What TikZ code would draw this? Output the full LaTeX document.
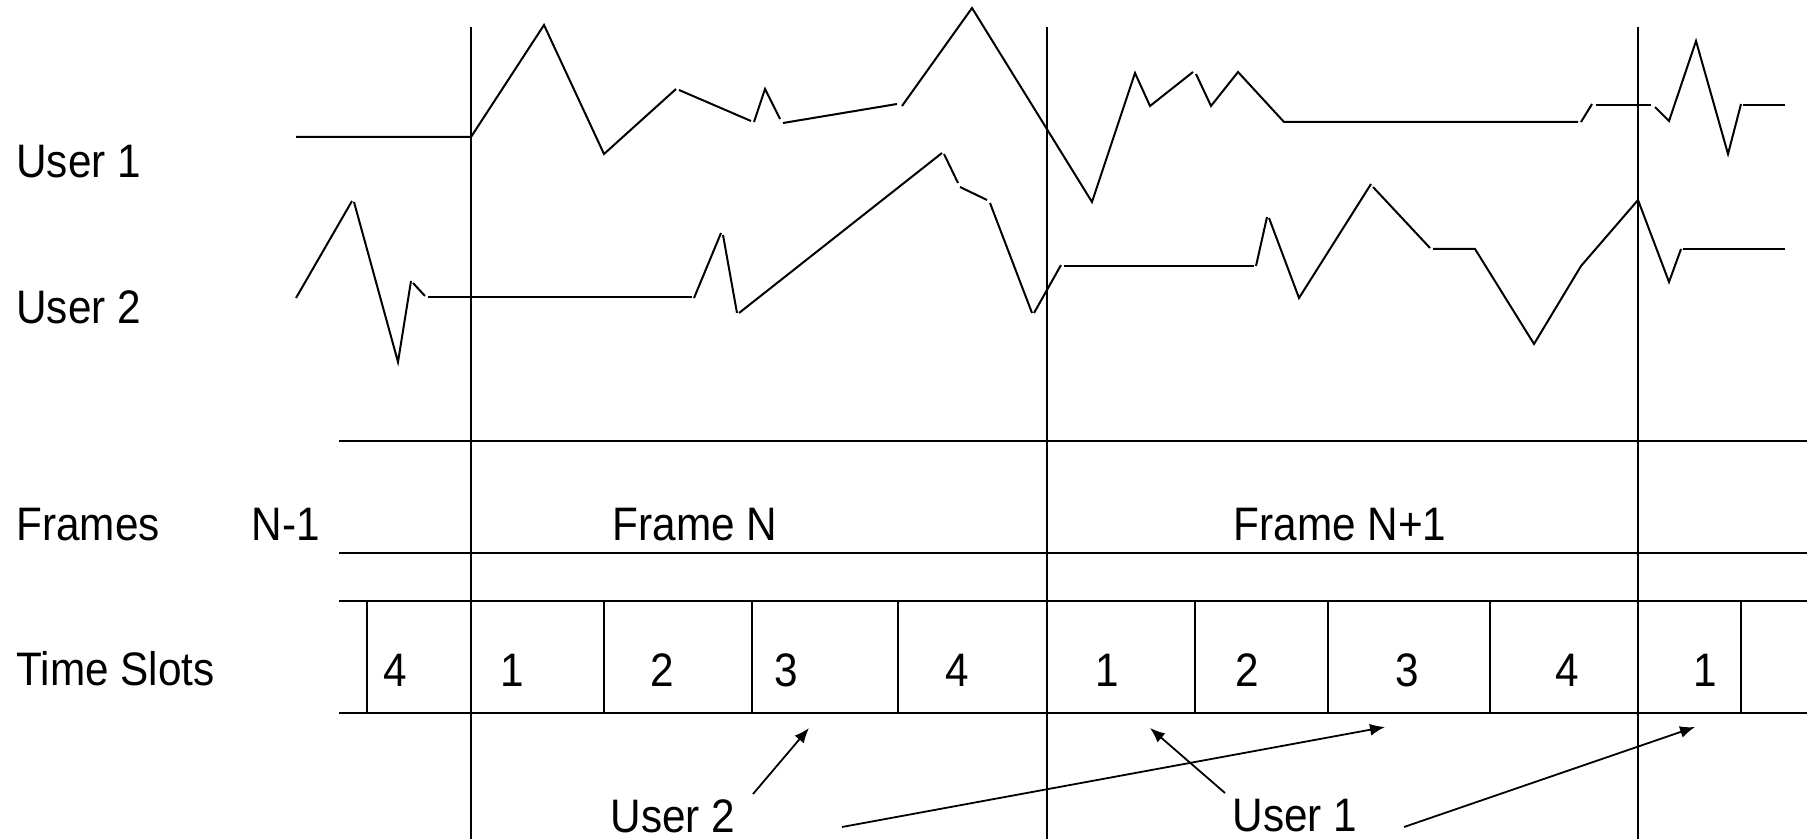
\documentclass[tikz,border=0pt]{standalone}
\usepackage{fontspec}
\setmainfont{Liberation Sans}[FakeStretch=0.9]
\usetikzlibrary{arrows.meta}

\begin{document}
\begin{tikzpicture}
      [ x = .5pt, y = -.5pt
      , lbl/.style =
        { inner sep = 0pt, anchor = base, font = \fontsize{23.5}{28}\selectfont }
      , side/.style =
        { anchor = base west }
      , wave/.style =
        { line width = 1pt }
      , rowline/.style =
        { line width = 1.4pt }
      , frameline/.style =
        { line width = 1.1pt }
      , slotline/.style =
        { line width = .9pt }
      , pointer/.style =
        { line width = .9pt, -{Latex[length=7.5pt, width=6pt]} }
      ]
      \useasboundingbox (0, 0) rectangle (1807, 839);
      % labels on the left
      \node [lbl,side] (u1) at (16, 178) {User 1};
      \node [lbl,side] (u2) at (16, 323) {User 2};
      \node [lbl,side] (fr) at (16, 540) {Frames};
      \node [lbl,side] (ts) at (16, 685) {Time Slots};
      \node [lbl] (nm1) at (286, 540) {N-1};
      \node [lbl] (fN) at (695, 540) {Frame N};
      \node [lbl] (fN1) at (1340, 540) {Frame N+1};
      % slot numbers
      \node [lbl] (s0) at (395, 686) {4};
      \node [lbl] (s1) at (512, 686) {1};
      \node [lbl] (s2) at (662, 686) {2};
      \node [lbl] (s3) at (786, 686) {3};
      \node [lbl] (s4) at (957, 686) {4};
      \node [lbl] (s5) at (1107, 686) {1};
      \node [lbl] (s6) at (1247, 686) {2};
      \node [lbl] (s7) at (1407, 686) {3};
      \node [lbl] (s8) at (1567, 686) {4};
      \node [lbl] (s9) at (1705, 686) {1};
      % who gets which slot
      \node [lbl] (w2) at (673, 832) {User 2};
      \node [lbl] (w1) at (1295, 831) {User 1};
      % rows
      \draw [rowline] (339, 441) -- (1807, 441);
      \draw [rowline] (339, 553) -- (1807, 553);
      \draw [rowline] (339, 601) -- (1807, 601);
      \draw [rowline] (339, 713) -- (1807, 713);
      % frame boundaries
      \draw [frameline] (471, 27) -- (471, 839);
      \draw [frameline] (1047, 27) -- (1047, 839);
      \draw [frameline] (1638, 27) -- (1638, 839);
      % slot boundaries
      \draw [slotline] (367, 601) -- (367, 713);
      \draw [slotline] (604, 601) -- (604, 713);
      \draw [slotline] (752, 601) -- (752, 713);
      \draw [slotline] (898, 601) -- (898, 713);
      \draw [slotline] (1195, 601) -- (1195, 713);
      \draw [slotline] (1328, 601) -- (1328, 713);
      \draw [slotline] (1490, 601) -- (1490, 713);
      \draw [slotline] (1741, 601) -- (1741, 713);
      % user 1 signal
      \draw [wave] (296, 137) -- (471, 137) -- (544, 25) -- (604, 154) -- (676, 89);
      \draw [wave] (679, 90) -- (751, 121);
      \draw [wave] (754, 122) -- (765, 89) -- (780, 119);
      \draw [wave] (783, 123) -- (897, 104);
      \draw [wave] (902, 106) -- (972, 8) -- (1092, 202) -- (1135, 73) -- (1150, 106) -- (1193, 72);
      \draw [wave] (1196, 74) -- (1211, 106) -- (1238, 72) -- (1284, 122) -- (1578, 122);
      \draw [wave] (1581, 122) -- (1592, 104);
      \draw [wave] (1596, 105) -- (1651, 105);
      \draw [wave] (1655, 107) -- (1669, 121) -- (1696, 41) -- (1728, 154) -- (1741, 104);
      \draw [wave] (1743, 105) -- (1785, 105);
      % user 2 signal
      \draw [wave] (296, 298) -- (352, 201);
      \draw [wave] (354, 202) -- (398, 362) -- (411, 281);
      \draw [wave] (413, 283) -- (425, 296);
      \draw [wave] (428, 297) -- (692, 297);
      \draw [wave] (694, 298) -- (721, 233);
      \draw [wave] (723, 235) -- (737, 313);
      \draw [wave] (739, 313) -- (942, 153);
      \draw [wave] (944, 154) -- (958, 183);
      \draw [wave] (960, 187) -- (987, 200);
      \draw [wave] (990, 203) -- (1032, 313);
      \draw [wave] (1034, 313) -- (1061, 265);
      \draw [wave] (1064, 266) -- (1254, 266);
      \draw [wave] (1256, 266) -- (1267, 217);
      \draw [wave] (1269, 218) -- (1299, 298) -- (1371, 184);
      \draw [wave] (1373, 187) -- (1430, 248);
      \draw [wave] (1433, 249) -- (1475, 249) -- (1534, 344) -- (1581, 266) -- (1638, 200) -- (1669, 282) -- (1681, 249);
      \draw [wave] (1683, 249) -- (1785, 249);
      % pointers
      \coordinate (a0) at (753, 794);
      \coordinate (b0) at (809, 728);
      \coordinate (a1) at (842, 827);
      \coordinate (b1) at (1385, 727);
      \coordinate (a2) at (1225, 793);
      \coordinate (b2) at (1150, 728);
      \coordinate (a3) at (1404, 827);
      \coordinate (b3) at (1695, 727);
      \draw [pointer] (a0) to (b0);
      \draw [pointer] (a1) to (b1);
      \draw [pointer] (a2) to (b2);
      \draw [pointer] (a3) to (b3);
    \end{tikzpicture}
\end{document}
